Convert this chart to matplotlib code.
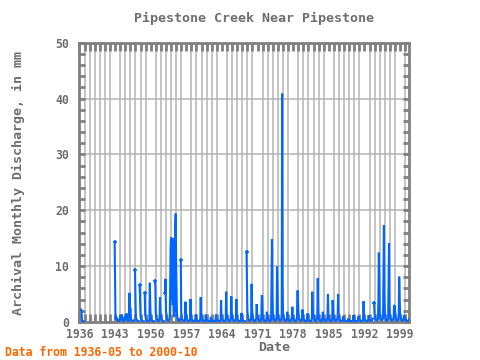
import matplotlib
matplotlib.use("Agg")
import matplotlib.pyplot as plt
from matplotlib.ticker import MultipleLocator
import numpy as np

nan = np.nan

# monthly discharge (mm), one row per calendar year Jan..Dec
first_year = 1936
rows = [
    [nan, nan, nan, nan, 2.2, 1.9, 0.3, 0.1, 0.1, 0.1, 0.1, 0.1],    # 1936
    [nan] * 12, [nan] * 12, [nan] * 12, [nan] * 12, [nan] * 12,       # 1937-1941
    [nan, nan, nan, nan, nan, nan, nan, nan, nan, nan, nan, 14.3],    # 1942
    [7.7, 0.6, 0.4, 0.9, 0.5, 0.3, 0.2, 0.1, 0.1, 0.3, 0.2, 0.1],    # 1943
    [0.5, 1.2, 0.8, 0.4, 1.3, 0.6, 0.3, 0.2, 0.1, 0.1, 0.4, 1.0],    # 1944
    [0.6, 0.4, 0.9, 1.5, 0.8, 0.3, 0.2, 0.1, 0.1, 0.3, 5.2, 1.2],    # 1945
    [2.5, 0.8, 0.4, 0.3, 0.2, 0.1, 0.1, 0.1, 0.1, 0.3, nan, 9.3],    # 1946
    [5.0, 0.8, 0.6, 0.4, 0.3, 0.2, 0.1, 0.1, 0.1, nan, 6.6, 3.9],    # 1947
    [1.0, 0.5, 0.4, 0.3, 0.2, 0.1, 0.1, 0.1, 0.1, nan, 5.1, 1.2],    # 1948
    [0.8, 0.5, 0.3, 0.2, 0.2, 0.1, 0.1, 0.1, 0.2, 0.4, 7.0, 2.9],    # 1949
    [1.0, 0.6, 0.3, 0.2, 0.2, 0.1, 0.1, 0.1, 0.1, nan, 7.3, 6.4],    # 1950
    [1.5, 0.8, 0.5, 0.4, 0.3, 0.2, 0.2, 0.1, 0.3, 0.8, 4.4, 1.8],    # 1951
    [1.0, 0.6, 0.4, 0.3, 0.2, 0.1, 0.1, 0.1, 0.1, nan, 5.1, 7.7],    # 1952
    [2.0, 1.2, 0.6, 0.4, 0.3, 0.2, 0.2, 0.3, 0.5, 1.0, 6.5, 13.8],   # 1953
    [15.0, 15.0, 4.0, 15.0, 3.0, 15.0, 2.0, 1.0, 1.0, 2.0, 17.3, 19.4],  # 1954
    [10.3, 5.5, 1.5, 0.8, 0.5, 0.3, 0.2, 0.2, 0.2, 0.5, nan, 11.1],  # 1955
    [2.0, 0.8, 0.5, 0.3, 0.2, 0.2, 0.1, 0.1, 0.2, 0.5, 3.6, 1.5],    # 1956
    [1.2, 0.6, 0.4, 0.3, 0.2, 0.1, 0.1, 0.1, 0.3, 0.6, 4.1, 1.0],    # 1957
    [0.6, 0.4, 0.3, 0.2, 0.2, 0.1, 0.1, 0.1, 0.1, 0.3, 1.3, 0.8],    # 1958
    [0.5, 0.3, 0.2, 0.2, 0.1, 0.1, 0.1, 0.1, 0.2, 0.6, 4.4, 1.2],    # 1959
    [0.8, 0.5, 0.3, 0.2, 0.2, 0.1, 0.1, 0.1, 0.1, 0.4, 1.3, 0.6],    # 1960
    [0.4, 0.3, 0.2, 0.2, 0.1, 0.1, 0.1, 0.1, 0.1, 0.3, 0.9, 0.4],    # 1961
    [0.3, 0.2, 0.2, 0.1, 0.1, 0.1, 0.1, 0.1, 0.1, 0.4, 1.3, 0.5],    # 1962
    [0.4, 0.3, 0.2, 0.2, 0.1, 0.1, 0.1, 0.1, 0.2, 0.5, 3.9, 1.0],    # 1963
    [0.6, 0.4, 0.3, 0.2, 0.2, 0.1, 0.1, 0.1, 0.2, 0.6, 5.4, 1.5],    # 1964
    [1.0, 0.6, 0.4, 0.3, 0.2, 0.1, 0.1, 0.2, 0.4, 1.0, 4.6, 1.8],    # 1965
    [1.0, 0.6, 0.4, 0.3, 0.2, 0.1, 0.1, 0.1, 0.3, 0.8, 4.1, 1.2],    # 1966
    [0.6, 0.4, 0.3, 0.2, 0.2, 0.1, 0.1, 0.1, 0.2, 0.4, 1.6, 0.8],    # 1967
    [0.5, 0.3, 0.2, 0.2, 0.1, 0.1, 0.1, 0.1, 0.1, nan, 12.6, 7.4],   # 1968
    [2.0, 1.0, 0.6, 0.4, 0.3, 0.2, 0.2, 0.2, 0.4, 1.2, 6.8, 2.5],    # 1969
    [1.2, 0.7, 0.4, 0.3, 0.2, 0.2, 0.1, 0.1, 0.3, 0.8, 3.2, 1.4],    # 1970
    [1.0, 0.6, 0.4, 0.3, 0.2, 0.2, 0.1, 0.1, 0.3, 0.9, 4.8, 4.5],    # 1971
    [1.2, 0.6, 0.4, 0.3, 0.2, 0.1, 0.1, 0.1, 0.2, 0.6, 1.8, 0.9],    # 1972
    [0.8, 0.5, 0.3, 0.2, 0.2, 0.1, 0.1, 0.2, 0.4, 7.3, 14.8, 4.8],   # 1973
    [1.5, 0.8, 0.5, 0.4, 0.3, 0.2, 0.2, 0.2, 0.4, 1.2, 9.9, 6.4],    # 1974
    [1.5, 0.8, 0.5, 0.4, 0.3, 0.2, 0.2, 0.3, 0.6, 1.5, 40.9, 6.6],   # 1975
    [1.8, 1.0, 0.6, 0.4, 0.3, 0.2, 0.1, 0.1, 0.2, 0.6, 1.8, 0.8],    # 1976
    [0.6, 0.4, 0.3, 0.2, 0.2, 0.1, 0.1, 0.2, 0.5, 1.0, 2.7, 1.2],    # 1977
    [0.8, 0.5, 0.3, 0.2, 0.2, 0.1, 0.1, 0.2, 0.4, 1.0, 5.6, 5.5],    # 1978
    [2.4, 1.0, 0.6, 0.4, 0.3, 0.2, 0.2, 0.2, 0.3, 0.8, 2.2, 0.9],    # 1979
    [0.6, 0.4, 0.3, 0.2, 0.2, 0.1, 0.1, 0.1, 0.3, 0.7, 1.5, 0.7],    # 1980
    [0.5, 0.3, 0.2, 0.2, 0.1, 0.1, 0.1, 0.2, 0.4, 5.4, 3.1, 1.0],    # 1981
    [1.2, 0.6, 0.4, 0.3, 0.2, 0.2, 0.1, 0.2, 0.5, 1.2, 7.8, 2.0],    # 1982
    [1.0, 0.6, 0.4, 0.3, 0.2, 0.2, 0.1, 0.1, 0.3, 0.8, 1.8, 0.9],    # 1983
    [0.7, 0.4, 0.3, 0.2, 0.2, 0.1, 0.1, 0.2, 0.4, 1.0, 5.0, 1.2],    # 1984
    [0.8, 0.5, 0.3, 0.2, 0.2, 0.1, 0.1, 0.2, 0.5, 3.9, 2.8, 1.0],    # 1985
    [0.8, 0.5, 0.3, 0.3, 0.2, 0.2, 0.2, 0.3, 0.6, 1.2, 5.0, 1.5],    # 1986
    [0.8, 0.5, 0.3, 0.2, 0.2, 0.1, 0.1, 0.1, 0.2, 0.4, 1.0, 0.5],    # 1987
    [0.4, 0.3, 0.2, 0.1, 0.1, 0.1, 0.1, 0.1, 0.1, 0.2, 0.6, 0.3],    # 1988
    [0.3, 0.2, 0.2, 0.1, 0.1, 0.1, 0.1, 0.1, 0.1, 0.3, 1.2, 0.5],    # 1989
    [0.4, 0.3, 0.2, 0.1, 0.1, 0.1, 0.1, 0.1, 0.2, 0.4, 1.0, 0.5],    # 1990
    [0.4, 0.3, 0.2, 0.2, 0.1, 0.1, 0.1, 0.2, 0.3, 0.8, 3.7, 1.2],    # 1991
    [0.7, 0.4, 0.3, 0.2, 0.2, 0.1, 0.1, 0.1, 0.2, 0.5, 1.2, 0.6],    # 1992
    [0.5, 0.3, 0.2, 0.2, 0.2, 0.2, 0.3, 0.4, 0.6, nan, 3.3, 3.4],    # 1993
    [1.2, 0.8, 0.5, 0.4, 0.3, 0.3, 0.2, 0.3, 0.6, 3.9, 12.4, 8.4],   # 1994
    [2.0, 1.0, 0.6, 0.5, 0.4, 0.3, 0.3, 0.4, 0.8, 9.2, 17.3, 5.0],   # 1995
    [2.0, 1.0, 0.6, 0.4, 0.3, 0.2, 0.2, 0.3, 0.6, 7.5, 14.1, 3.0],   # 1996
    [1.5, 0.8, 0.5, 0.4, 0.3, 0.2, 0.2, 0.3, 0.5, 1.0, 3.0, 2.9],    # 1997
    [2.5, 1.2, 0.6, 0.4, 0.3, 0.2, 0.2, 0.3, 0.6, 1.5, 8.1, 5.0],    # 1998
    [1.7, 1.0, 0.6, 0.4, 0.3, 0.2, 0.2, 0.2, 0.4, 1.0, 1.2, 0.6],    # 1999
    [0.5, 0.4, 0.3, 0.2, 0.2, 0.1, 0.1, 0.1, 0.2, 0.5],              # 2000 (to Oct)
]

year_ticks = [1936, 1943, 1950, 1957, 1964, 1971, 1978, 1985, 1992, 1999]
title = "Pipestone Creek Near Pipestone"
ylabel = "Archival Monthly Discharge, in mm"
note = "Data from 1936-05 to 2000-10"

vals = np.array([v for r in rows for v in r], dtype=float)
t = first_year + np.arange(len(vals)) / 12.0
# points that start a segment after a gap get a marker
prev = np.concatenate([[nan], vals[:-1]])
seg_start = np.isfinite(vals) & ~np.isfinite(prev) & (t > first_year + 1)

grey = "#808080"
txt = "#6e6e6e"
font = "DejaVu Sans Mono"

fig = plt.figure(figsize=(4.8, 3.6), dpi=100)
ax = fig.add_axes([0.1655, 0.106, 0.687, 0.775])
ax.plot(t, vals, color="#0066ff", lw=1.5, solid_joinstyle="miter", zorder=3)
ax.plot(t[seg_start], vals[seg_start], ls="none", marker="+", ms=3, mew=1.2,
        color="#0066ff", zorder=3)

ax.set_xlim(1936.0, 2000.8)
ax.set_ylim(0, 50)
ax.set_xticks(year_ticks)
ax.xaxis.set_minor_locator(MultipleLocator(1))
ax.yaxis.set_major_locator(MultipleLocator(10))
ax.yaxis.set_minor_locator(MultipleLocator(2))
ax.grid(True, which="major", axis="y", color="#b4b4b4", lw=1.1)
ax.grid(True, which="minor", axis="x", color="#b4b4b4", lw=1.1)
ax.set_axisbelow(True)
ax.tick_params(axis="x", which="both", direction="in", top=True, length=6,
               width=2, color=grey, pad=4.5, labelsize=8.3, labelcolor=txt)
ax.tick_params(axis="y", which="both", direction="in", right=True, length=4,
               width=2, color=grey, pad=7.5, labelsize=8.3, labelcolor=txt)
for lab in ax.get_xticklabels() + ax.get_yticklabels():
    lab.set_family(font); lab.set_weight("bold")
for s in ax.spines.values():
    s.set_color(grey); s.set_linewidth(2)

fig.text(0.53, 0.95, title, ha="center", va="center", family=font,
         weight="bold", size=9.6, color=txt)
fig.text(0.038, 0.492, ylabel, ha="center", va="center", rotation=90,
         family=font, weight="bold", size=9.6, color=txt)
fig.text(0.571, 0.036, "Date", ha="center", va="center", family=font,
         weight="bold", size=9.6, color=txt)
fig.text(0.01, 0.022, note, ha="left", va="center", family=font,
         weight="bold", size=8.3, color="#ff6600")

fig.savefig("out.png", dpi=100)
